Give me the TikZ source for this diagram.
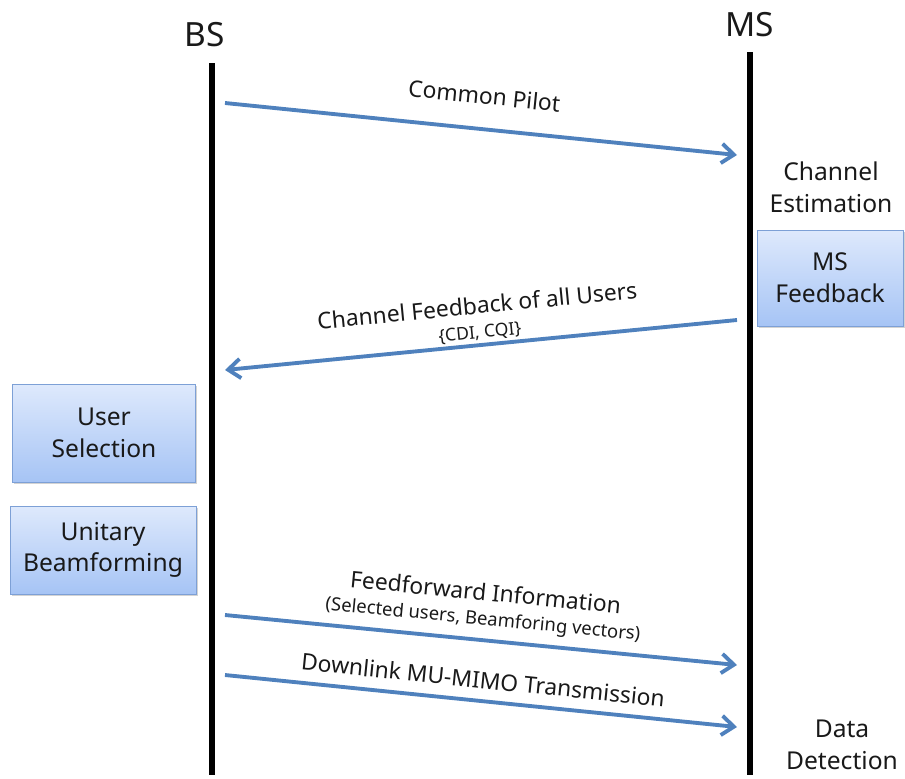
\documentclass[tikz,border=0pt]{standalone}
\usepackage{fontspec}
\setmainfont{Noto Sans}
\usepackage{xcolor}
\usetikzlibrary{arrows.meta, positioning, shadows}
\definecolor{msgblue}{RGB}{79,129,189}
\definecolor{boxtop}{RGB}{222,233,252}
\definecolor{boxbot}{RGB}{166,196,245}
\definecolor{boxline}{RGB}{125,160,214}

\begin{document}
\begin{tikzpicture}[
  x=0.02cm, y=-0.02cm,
  every node/.style={font=\fontsize{14}{18}\selectfont, text=black!90},
  entity/.style={font=\fontsize{19}{22}\selectfont},
  life/.style={line width=3.4pt, black},
  msg/.style={line width=2.2pt, color=msgblue,
              -{Straight Barb[length=7pt, width=11pt, line width=2.2pt]}},
  lbl/.style={sloped, above, font=\fontsize{13}{15}\selectfont, align=center},
  proc/.style={rectangle, draw=boxline, top color=boxtop, bottom color=boxbot,
               drop shadow={shadow xshift=1pt, shadow yshift=-1pt, opacity=0.35},
               align=center},
  note/.style={align=center},
]
\useasboundingbox (0,0) rectangle (905,778);

% ── Entities and lifelines ──
\node[entity] (bs) at (205,35) {BS};
\node[entity] (ms) at (750,25) {MS};
\coordinate (bstop) at (212,63);  \coordinate (bsbot) at (212,775);
\coordinate (mstop) at (750,52);  \coordinate (msbot) at (750,775);
\draw[life] (bstop) -- (bsbot);
\draw[life] (mstop) -- (msbot);

% ── Common pilot ──
\coordinate (p1) at (225,103); \coordinate (p2) at (737,155);
\draw[msg] (p1) -- node[lbl, inner sep=13pt] {Common Pilot} (p2);
\node[note] (est) at (831,187) {Channel\\Estimation};

% ── Feedback ──
\node[proc, minimum width=2.92cm, minimum height=1.92cm] (fb) at (830,278) {MS\\Feedback};
\coordinate (f1) at (737,320); \coordinate (f2) at (225,370);
\draw[msg] (f1) -- node[lbl, inner sep=1pt]
  {Channel Feedback of all Users\\[-1pt]{\fontsize{10}{11}\selectfont\{CDI, CQI\}}} (f2);

% ── BS processing ──
\node[proc, minimum width=3.66cm, minimum height=1.96cm] (sel) at (104,433) {User\\Selection};
\node[proc, minimum width=3.72cm, minimum height=1.76cm] (bf) at (103,550) {Unitary\\Beamforming};

% ── Feedforward and data ──
\coordinate (d1) at (225,615); \coordinate (d2) at (737,665);
\draw[msg] (d1) -- node[lbl, inner sep=5pt]
  {Feedforward Information\\[-1pt]{\fontsize{10.5}{12}\selectfont(Selected users, Beamforing vectors)}} (d2);
\coordinate (t1) at (225,675); \coordinate (t2) at (737,727);
\draw[msg] (t1) -- node[lbl, inner sep=6pt] {Downlink MU-MIMO Transmission} (t2);
\node[note] (det) at (842,745) {Data\\Detection};

\end{tikzpicture}
\end{document}
